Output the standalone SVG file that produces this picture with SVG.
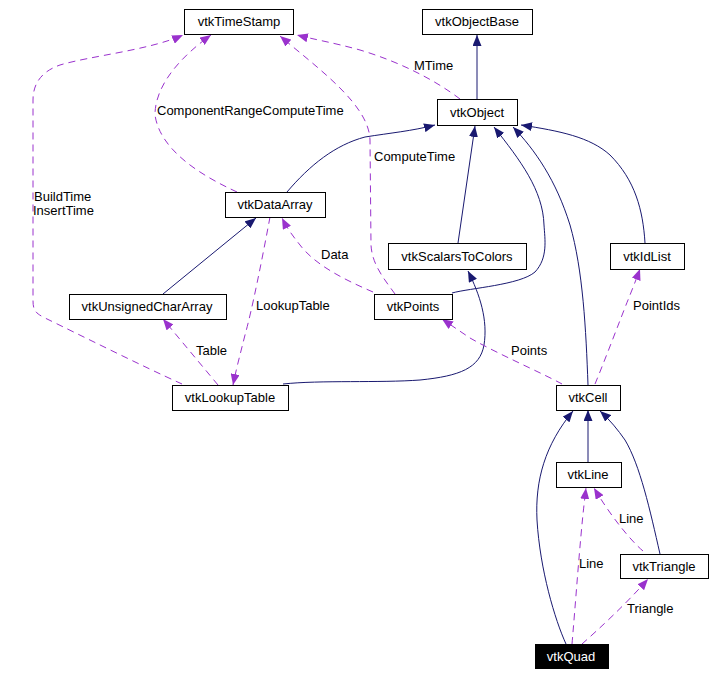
<svg xmlns="http://www.w3.org/2000/svg" width="715" height="676" viewBox="0 0 715 676">
<style>
.node rect{fill:#fff;stroke:#000;stroke-width:1}
.node text{font-family:"Liberation Sans",Arial,sans-serif;font-size:13px;text-anchor:middle;fill:#000}
.node.hl rect{fill:#000}
.node.hl text{fill:#fff}
.inh{fill:none;stroke:#191970;stroke-width:1;marker-end:url(#ah)}
.use{fill:none;stroke:#9a32cd;stroke-width:1;stroke-dasharray:7,5;marker-end:url(#ap)}
.lbl{font-family:"Liberation Sans",Arial,sans-serif;font-size:13px;fill:#000}
</style>
<defs>
<marker id="ah" viewBox="0 0 11 9" refX="11" refY="4.5" markerWidth="11" markerHeight="9" markerUnits="userSpaceOnUse" orient="auto">
<path d="M0,0 L11,4.5 L0,9 z" fill="#191970"/>
</marker>
<marker id="ap" viewBox="0 0 11 9" refX="11" refY="4.5" markerWidth="11" markerHeight="9" markerUnits="userSpaceOnUse" orient="auto">
<path d="M0,0 L11,4.5 L0,9 z" fill="#9a32cd"/>
</marker>
</defs>
<rect width="715" height="676" fill="#fff"/>
<g id="connectors">
<path class="inh" d="M477,99 L477,35"/>
<path class="use" d="M460,99 C435,80 400,62 360,50 C335,43 312,39 297,35"/>
<path class="use" d="M237,192 C200,175 160,150 155,115 C155,80 190,50 211,35"/>
<path class="use" d="M182,384 C140,365 80,335 45,318 C35,313 33,310 33,300 L33,100 C33,85 40,72 60,65 C90,56 150,50 183,35"/>
<path class="use" d="M395,294 C385,280 372,265 371,245 L370,140 C369,105 320,70 280,36"/>
<path class="inh" d="M287,192 C310,165 335,145 365,137 C390,133 412,131 435,125"/>
<path class="inh" d="M458,243 L475,126"/>
<path class="inh" d="M452,293 C470,288 520,285 535,272 C548,258 545,240 544,225 C543,190 520,160 494,127"/>
<path class="inh" d="M588,385 C586,330 583,270 570,225 C556,180 535,150 513,127"/>
<path class="inh" d="M645,243 C643,210 635,180 610,155 C590,137 560,131 521,125"/>
<path class="inh" d="M283,384 C320,380 380,383 420,380 C460,376 480,368 484,345 C488,320 480,295 468,271"/>
<path class="inh" d="M163,294 L256,218"/>
<path class="use" d="M218,385 L163,319"/>
<path class="use" d="M270,217 C262,260 252,310 245,335 C240,355 236,370 233,385"/>
<path class="use" d="M373,292 C345,280 315,265 300,245 C292,235 287,228 282,218"/>
<path class="use" d="M562,384 C540,372 500,355 470,338 L442,319"/>
<path class="use" d="M595,384 C605,360 620,320 628,300 C632,290 636,280 640,269"/>
<path class="inh" d="M588,462 L588,410"/>
<path class="inh" d="M566,644 C555,620 540,570 537,520 C535,480 545,445 573,411"/>
<path class="inh" d="M660,554 C650,510 640,465 625,440 C618,430 610,420 600,411"/>
<path class="use" d="M643,551 C630,540 610,515 594,488"/>
<path class="use" d="M572,644 C575,610 580,540 584,505 L586,488"/>
<path class="use" d="M582,644 C600,628 625,605 648,579"/>
<text class="lbl" x="414" y="70">MTime</text>
<text class="lbl" x="157" y="115">ComponentRangeComputeTime</text>
<text class="lbl" x="374" y="161">ComputeTime</text>
<text class="lbl" x="34" y="201">BuildTime</text>
<text class="lbl" x="33" y="215">InsertTime</text>
<text class="lbl" x="321" y="259">Data</text>
<text class="lbl" x="256" y="310">LookupTable</text>
<text class="lbl" x="196" y="355">Table</text>
<text class="lbl" x="511" y="355">Points</text>
<text class="lbl" x="633" y="310">PointIds</text>
<text class="lbl" x="619" y="523">Line</text>
<text class="lbl" x="579" y="568">Line</text>
<text class="lbl" x="627" y="613">Triangle</text>
</g>
<g id="vtkTimeStamp" class="node"><rect x="184.5" y="9.5" width="109" height="25"/><text x="239" y="26">vtkTimeStamp</text></g>
<g id="vtkObjectBase" class="node"><rect x="422.5" y="9.5" width="110" height="25"/><text x="477" y="26">vtkObjectBase</text></g>
<g id="vtkObject" class="node"><rect x="437.5" y="99.5" width="80" height="26"/><text x="477" y="117">vtkObject</text></g>
<g id="vtkDataArray" class="node"><rect x="225.5" y="192.5" width="100" height="25"/><text x="275" y="209">vtkDataArray</text></g>
<g id="vtkScalarsToColors" class="node"><rect x="388.5" y="243.5" width="138" height="26"/><text x="457" y="261">vtkScalarsToColors</text></g>
<g id="vtkIdList" class="node"><rect x="610.5" y="243.5" width="74" height="26"/><text x="647" y="261">vtkIdList</text></g>
<g id="vtkUnsignedCharArray" class="node"><rect x="69.5" y="294.5" width="157" height="25"/><text x="147" y="311">vtkUnsignedCharArray</text></g>
<g id="vtkPoints" class="node"><rect x="374.5" y="294.5" width="78" height="25"/><text x="413" y="311">vtkPoints</text></g>
<g id="vtkLookupTable" class="node"><rect x="172.5" y="385.5" width="116" height="25"/><text x="230" y="402">vtkLookupTable</text></g>
<g id="vtkCell" class="node"><rect x="556.5" y="385.5" width="64" height="25"/><text x="588" y="402">vtkCell</text></g>
<g id="vtkLine" class="node"><rect x="556.5" y="462.5" width="65" height="25"/><text x="588" y="479">vtkLine</text></g>
<g id="vtkTriangle" class="node"><rect x="620.5" y="554.5" width="88" height="24"/><text x="664" y="571">vtkTriangle</text></g>
<g id="vtkQuad" class="node hl"><rect x="535.5" y="644.5" width="73" height="24"/><text x="571" y="661">vtkQuad</text></g>
</svg>
